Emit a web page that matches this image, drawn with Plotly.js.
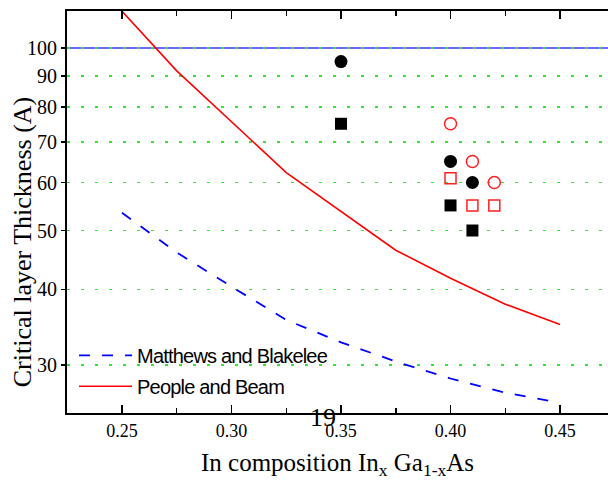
<!DOCTYPE html>
<html>
<head>
<meta charset="utf-8">
<script src="https://cdn.plot.ly/plotly-3.0.1.min.js"></script>
<style>
  html, body { margin: 0; padding: 0; background: #fff; overflow: hidden; }
  #chart { width: 608px; height: 491px; }
</style>
</head>
<body>
<div id="chart"></div>
<script>
// In composition x of InxGa1-xAs
const compositionGrid = [0.25, 0.275, 0.30, 0.325, 0.35, 0.375, 0.40, 0.425, 0.45];
// Matthews and Blakeslee critical thickness model (A)
const matthewsBlakelee = [53.5, 46.0, 40.4, 35.6, 32.7, 30.4, 28.5, 27.0, 26.0];

// People and Bean critical thickness model (A)
const peopleBeamX = [0.25, 0.275, 0.325, 0.375, 0.40, 0.425, 0.45];
const peopleBeamY = [115, 91.7, 62.3, 46.4, 41.7, 37.8, 35.0];

// Measured layers
const filledCircleX = [0.35, 0.40, 0.41];
const filledCircleY = [95, 65, 60];
const filledSquareX = [0.35, 0.40, 0.41];
const filledSquareY = [75, 55, 50];
const openCircleX = [0.40, 0.41, 0.42];
const openCircleY = [75, 65, 60];
const openSquareX = [0.40, 0.41, 0.42];
const openSquareY = [61, 55, 55];

// Axis ticks
const xTickVals = [0.25, 0.30, 0.35, 0.40, 0.45];
const xTickText = ['0.25', '0.30', '0.35', '0.40', '0.45'];
const yTickVals = [30, 40, 50, 60, 70, 80, 90, 100];
const yTickText = ['30', '40', '50', '60', '70', '80', '90', '100'];

const referenceThickness = 100;

const serif = 'Liberation Serif, Times New Roman, serif';
const sans = 'Liberation Sans, Arial, sans-serif';

// tightly spaced legend labels
const tight = s => '<span style="letter-spacing:-0.8px">' + s + '</span>';

const traces = [
  {
    x: compositionGrid, y: matthewsBlakelee, type: 'scatter', mode: 'lines',
    name: tight('Matthews and Blakelee'), legendgroup: 'mb',
    line: { color: '#0000ff', width: 1.8, dash: '11px,12px' }
  },
  {
    x: peopleBeamX, y: peopleBeamY, type: 'scatter', mode: 'lines',
    name: tight('People and Beam'), legendgroup: 'pb',
    line: { color: '#ff0000', width: 1.6 }
  },
  {
    x: filledCircleX, y: filledCircleY, type: 'scatter', mode: 'markers', showlegend: false,
    marker: { symbol: 'circle', size: 13, color: '#000' }
  },
  {
    x: filledSquareX, y: filledSquareY, type: 'scatter', mode: 'markers', showlegend: false,
    marker: { symbol: 'square', size: 12, color: '#000' }
  },
  {
    x: openCircleX, y: openCircleY, type: 'scatter', mode: 'markers', showlegend: false,
    marker: { symbol: 'circle-open', size: 12, color: '#ff2020', line: { width: 1.5 } }
  },
  {
    x: openSquareX, y: openSquareY, type: 'scatter', mode: 'markers', showlegend: false,
    marker: { symbol: 'square-open', size: 11, color: '#ff2020', line: { width: 1.5 } }
  }
];

const layout = {
  width: 608,
  height: 491,
  margin: { l: 67, r: 0, t: 11, b: 78 },
  paper_bgcolor: '#fff',
  plot_bgcolor: '#fff',
  showlegend: true,
  legend: {
    x: 0.013, y: 0.192, xanchor: 'left', yanchor: 'top',
    bgcolor: 'rgba(0,0,0,0)',
    font: { family: sans, size: 20, color: '#000' },
    traceorder: 'grouped', tracegroupgap: 2, itemwidth: 53
  },
  xaxis: {
    range: [0.2249, 0.4719],
    tickmode: 'array', tickvals: xTickVals, ticktext: xTickText,
    ticks: 'inside', ticklen: 8, tickwidth: 1.5, tickcolor: '#000',
    showline: true, linecolor: '#000', linewidth: 2, mirror: 'ticks',
    showgrid: false, zeroline: false,
    minor: { tickmode: 'linear', tick0: 0.275, dtick: 0.05, ticks: 'inside', ticklen: 5, tickwidth: 1.5, tickcolor: '#000', showgrid: false },
    tickfont: { family: serif, size: 18, color: '#000' },
    title: {
      text: 'In composition In<sub>x</sub> Ga<sub>1-x</sub>As',
      font: { family: serif, size: 25, color: '#000' },
      standoff: 14
    }
  },
  yaxis: {
    type: 'log',
    range: [Math.log10(25.0), Math.log10(115.1)],
    tickmode: 'array', tickvals: yTickVals, ticktext: yTickText,
    ticks: 'outside', ticklen: 4, tickwidth: 1.5, tickcolor: '#000',
    showline: true, linecolor: '#000', linewidth: 2,
    showgrid: true, gridcolor: '#2ee82e', gridwidth: 1.5, griddash: '3px,11px',
    zeroline: false,
    tickfont: { family: serif, size: 20, color: '#000' }
  },
  shapes: [
    {
      type: 'line', layer: 'below', xref: 'paper', x0: 0, x1: 1,
      yref: 'y', y0: referenceThickness, y1: referenceThickness,
      line: { color: '#6a6aff', width: 2 }
    }
  ],
  annotations: [
    {
      text: 'Critical layer Thickness (A)', textangle: -90,
      xref: 'paper', yref: 'paper', x: -0.083, y: 0.425,
      xanchor: 'center', yanchor: 'middle', showarrow: false,
      font: { family: serif, size: 26, color: '#000' }
    },
    {
      text: '19',
      xref: 'paper', yref: 'paper', x: 0.473, y: -0.01,
      xanchor: 'center', yanchor: 'middle', showarrow: false,
      font: { family: serif, size: 26, color: '#000' }
    }
  ]
};

Plotly.newPlot('chart', traces, layout, { displayModeBar: false, staticPlot: true });
</script>
</body>
</html>
